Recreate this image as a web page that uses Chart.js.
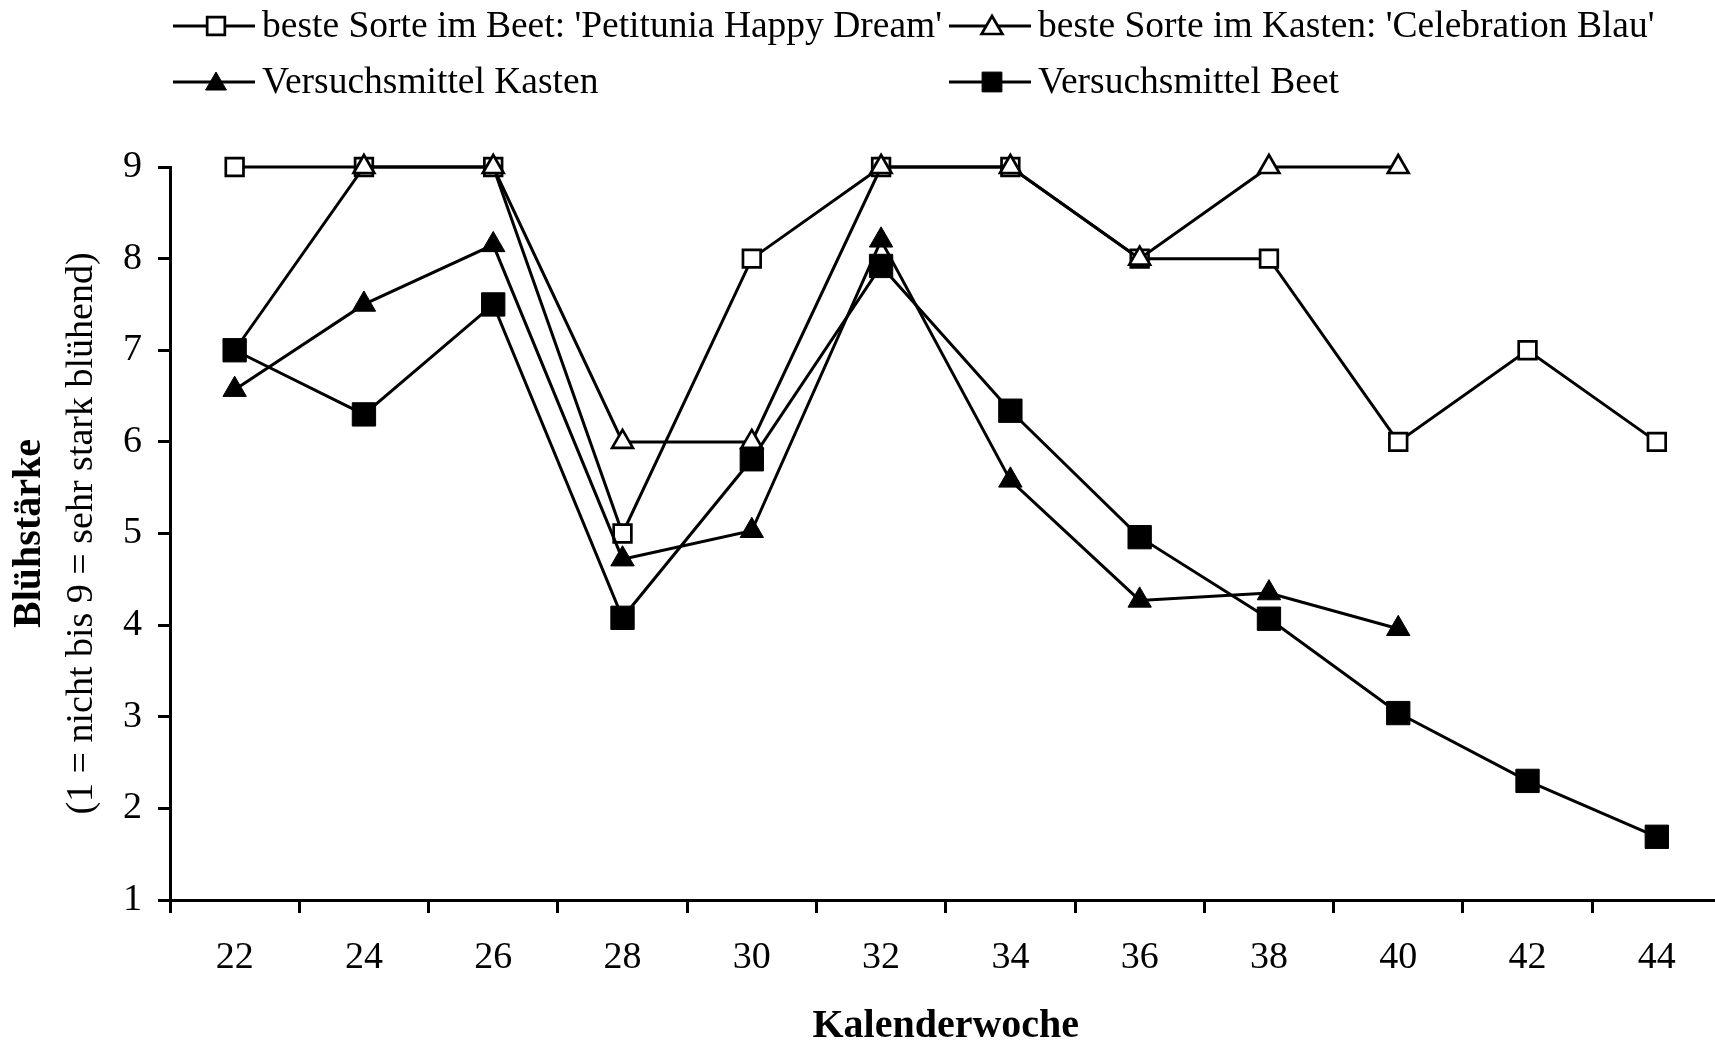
<!DOCTYPE html>
<html>
<head>
<meta charset="utf-8">
<script src="https://cdn.jsdelivr.net/npm/chart.js@4.4.1/dist/chart.umd.min.js"></script>
<style>
html,body{margin:0;padding:0;background:#fff;overflow:hidden;}
canvas{display:block;}
</style>
</head>
<body>
<canvas id="chart" width="1715" height="1045"></canvas>
<script>
// Kalenderwochen und Blühstärke-Boniturwerte
const weeks=[22,24,26,28,30,32,34,36,38,40,42,44];
const besteBeet=[9,9,9,5,8,9,9,8,8,6,7,6];
const besteKasten=[7,9,9,6,6,9,9,8,9,9,null,null];
const mittelKasten=[6.57,7.5,8.15,4.72,5.03,8.2,5.58,4.27,4.35,3.96,null,null];
const mittelBeet=[7,6.3,7.5,4.08,5.81,7.92,6.34,4.96,4.07,3.04,2.3,1.69];
const yTicks=[1,2,3,4,5,6,7,8,9];

const labelBeet="beste Sorte im Beet: 'Petitunia Happy Dream'";
const labelKasten="beste Sorte im Kasten: 'Celebration Blau'";
const labelMK='Versuchsmittel Kasten';
const labelMB='Versuchsmittel Beet';

const serif="'Liberation Serif','Times New Roman',serif";
Chart.defaults.font.family=serif;
Chart.defaults.color='#000';

const X_MIN=21, X_MAX=44.9;
const LINE_W=3;

function pts(arr){return weeks.map((w,i)=>({x:w,y:arr[i]}));}

function series(label,arr,style,filled,radius,legendRadius){
    return {
        label:label,
        data:pts(arr),
        borderColor:'#000',
        borderWidth:LINE_W,
        pointStyle:style,
        pointRadius:radius,
        legendRadius:legendRadius,
        pointBorderWidth:filled?1:2.7,
        pointBackgroundColor:filled?'#000':'#fff',
        pointBorderColor:'#000',
        spanGaps:false,
        clip:false,
        tension:0
    };
}

// index 0 is drawn on top
const kastenSeries=series(labelKasten,besteKasten,'triangle',false,12,12);
// first Kasten point sits under the filled Beet square
kastenSeries.pointRadius=c=>c.dataIndex===0?8:12;
const datasets=[
    series(labelMK,mittelKasten,'triangle',true,13.5,12),
    series(labelMB,mittelBeet,'rect',true,16.5,14),
    kastenSeries,
    series(labelBeet,besteBeet,'rect',false,12.5,12.5)
];

// legend slots: [dataset index, x, y]
const legendSlots=[[3,173,26],[2,949,26],[0,173,82],[1,949,82]];

const decor={
    id:'decor',
    afterDraw(chart){
        const ctx=chart.ctx;
        const area=chart.chartArea;
        ctx.save();
        ctx.fillStyle='#000';
        ctx.strokeStyle='#000';
        // legend
        legendSlots.forEach(([idx,x,y])=>{
            const ds=chart.data.datasets[idx];
            ctx.lineWidth=LINE_W;
            ctx.beginPath();
            ctx.moveTo(x,y);ctx.lineTo(x+82,y);
            ctx.stroke();
            ctx.fillStyle=ds.pointBackgroundColor;
            ctx.lineWidth=ds.pointBorderWidth;
            Chart.helpers.drawPoint(ctx,{pointStyle:ds.pointStyle,radius:ds.legendRadius,rotation:0,borderWidth:ds.pointBorderWidth},x+43,y+(ds.pointStyle==='triangle'?2:0));
            ctx.fillStyle='#000';
            ctx.font='37.5px '+serif;
            ctx.textAlign='left';
            ctx.textBaseline='middle';
            ctx.fillText(ds.label,x+89,y+1);
        });
        // y titles
        const cy=(area.top+area.bottom)/2;
        ctx.save();
        ctx.translate(30,cy);
        ctx.rotate(-Math.PI/2);
        ctx.textAlign='center';
        ctx.textBaseline='middle';
        ctx.font='bold 40px '+serif;
        ctx.fillText('Blühstärke',0,0);
        ctx.restore();
        ctx.save();
        ctx.translate(82,cy);
        ctx.rotate(-Math.PI/2);
        ctx.textAlign='center';
        ctx.textBaseline='middle';
        ctx.font='38px '+serif;
        ctx.fillText('(1 = nicht bis 9 = sehr stark blühend)',0,0);
        ctx.restore();
        // x title
        ctx.textAlign='center';
        ctx.textBaseline='middle';
        ctx.font='bold 40px '+serif;
        ctx.fillText('Kalenderwoche',chart.scales.x.getPixelForValue(33),1027);
        ctx.restore();
    }
};

new Chart(document.getElementById('chart'),{
    type:'line',
    data:{datasets:datasets},
    options:{
        responsive:false,
        animation:false,
        devicePixelRatio:1,
        layout:{autoPadding:false,padding:{top:167,right:0,left:0,bottom:0}},
        plugins:{legend:{display:false},tooltip:{enabled:false}},
        scales:{
            x:{
                type:'linear',
                min:X_MIN,
                max:X_MAX,
                afterBuildTicks(s){
                    const t=[];
                    for(let v=X_MIN;v<=44;v++) t.push({value:v});
                    t.push({value:X_MAX});
                    s.ticks=t;
                },
                afterFit(s){s.height=145;s.paddingRight=0;s.paddingLeft=0;},
                grid:{
                    drawOnChartArea:false,
                    tickLength:13,
                    tickWidth:3,
                    tickColor:c=>(c.tick&&c.tick.value%2===1)?'#000':'rgba(0,0,0,0)'
                },
                border:{display:true,color:'#000',width:3},
                ticks:{
                    autoSkip:false,
                    maxRotation:0,
                    padding:22,
                    font:{size:38},
                    callback:v=>weeks.includes(v)?String(v):''
                }
            },
            y:{
                min:1,
                max:9,
                afterBuildTicks(s){s.ticks=yTicks.map(v=>({value:v}));},
                afterFit(s){s.width=170;},
                grid:{drawOnChartArea:false,tickLength:12,tickWidth:3,tickColor:'#000'},
                border:{display:true,color:'#000',width:3},
                ticks:{padding:16,font:{size:38}}
            }
        }
    },
    plugins:[decor]
});
</script>
</body>
</html>
